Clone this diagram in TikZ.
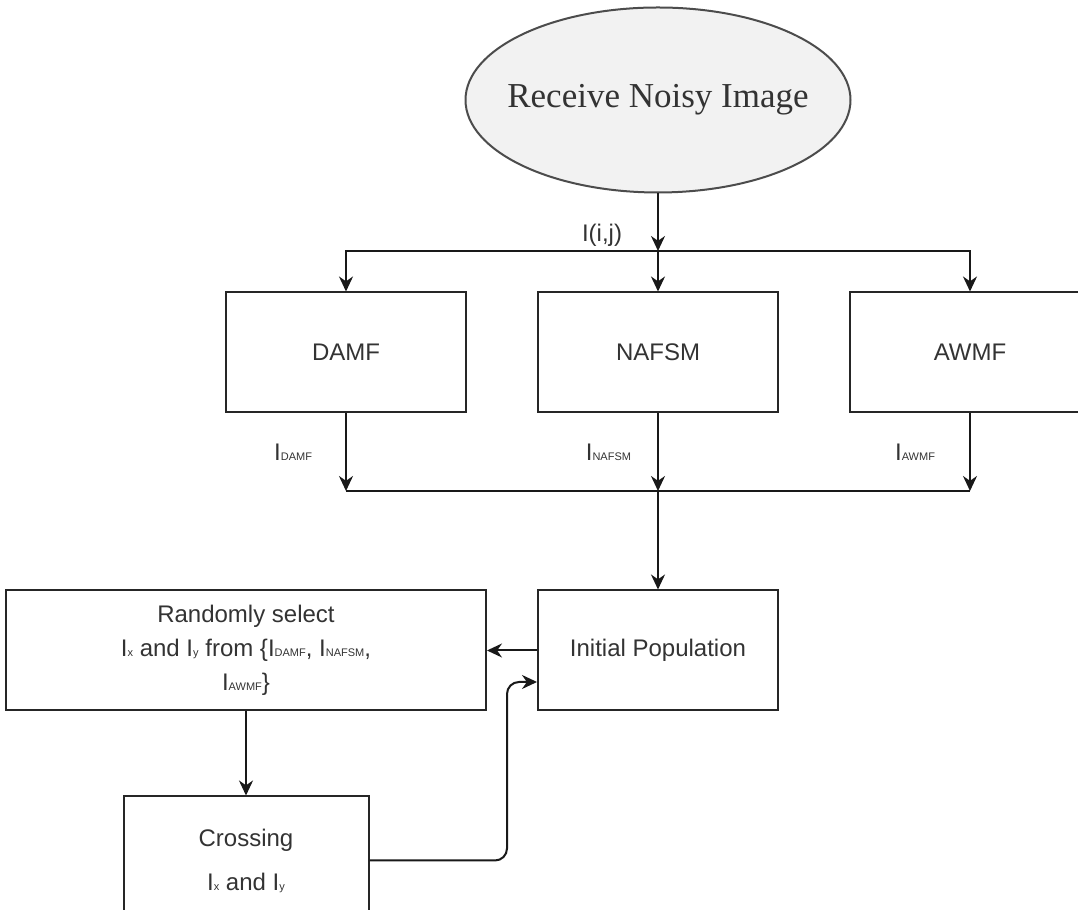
\documentclass[tikz,border=0pt]{standalone}
\usepackage{fontspec}
\setmainfont{Liberation Serif}
\setsansfont{Liberation Sans}
\usetikzlibrary{arrows.meta,positioning,shapes.geometric,calc}
\newcommand{\lsub}[1]{{\fontsize{5.5}{6}\selectfont #1}}

\begin{document}
\begin{tikzpicture}[
    x=1pt, y=1pt,
    >={Stealth[length=7.5pt,width=7pt]},
    box/.style={draw=black!85, line width=1pt, minimum width=120pt,
                minimum height=60pt, inner sep=2pt, align=center,
                text=black!80, font=\sffamily\fontsize{12}{17}\selectfont},
    oval/.style={ellipse, draw=black!70, line width=1pt, fill=black!5,
                 minimum width=192.5pt, minimum height=92.5pt,
                 inner xsep=-8pt, inner ysep=0pt,
                 text=black!80, font=\rmfamily\fontsize{17.5}{20}\selectfont},
    lbl/.style={text=black!80, inner sep=0pt,
                font=\sffamily\fontsize{12}{14}\selectfont},
    arr/.style={->, line width=1pt, black!90}
  ]
  \useasboundingbox (0,0) rectangle (539,455);

  \node (recv)  [oval] at (329,405)               {Receive Noisy Image};
  \node (nafsm) [box]  at (329,278.75)            {NAFSM};
  \node (damf)  [box, left=35pt of nafsm]         {DAMF};
  \node (awmf)  [box, right=35pt of nafsm]        {AWMF};
  \node (init)  [box, below=88pt of nafsm]        {Initial Population};
  \node (rand)  [box, minimum width=240pt, left=25pt of init]
        {Randomly select\\I\lsub{x} and I\lsub{y} from \{I\lsub{DAMF}, I\lsub{NAFSM},\\I\lsub{AWMF}\}};
  \node (cross) [box, minimum width=122.5pt, minimum height=64pt, below=42pt of rand]
        {Crossing\\[5pt]I\lsub{x} and I\lsub{y}};

  \coordinate [above=20.25pt of nafsm.north] (split);
  \coordinate [below=38.75pt of nafsm.south] (merge);

  % input image to the three filters
  \draw[arr] (recv) -- node[lbl, pos=0.72, left=17.5pt] {I(i,j)} (split);
  \draw[arr] (split) -- (nafsm);
  \draw[arr] (split) -| (damf);
  \draw[arr] (split) -| (awmf);

  % filter outputs
  \draw[arr] (damf)  -- node[lbl, left=16.5pt] {I\lsub{DAMF}}  (damf |- merge);
  \draw[arr] (nafsm) -- node[lbl, left=13pt]   {I\lsub{NAFSM}} (merge);
  \draw[arr] (awmf)  -- node[lbl, left=17pt]   {I\lsub{AWMF}}  (awmf |- merge);
  \draw[line width=1pt, black!90] (damf |- merge) -- (awmf |- merge);
  \draw[arr] (merge) -- (init);

  % genetic loop
  \draw[arr] (init) -- (rand);
  \draw[arr] (rand) -- (cross);
  \draw[arr, rounded corners=6pt] (cross.east)
        -| ([xshift=-15pt, yshift=-15.75pt]init.west) -- ([yshift=-15.75pt]init.west);
\end{tikzpicture}
\end{document}
